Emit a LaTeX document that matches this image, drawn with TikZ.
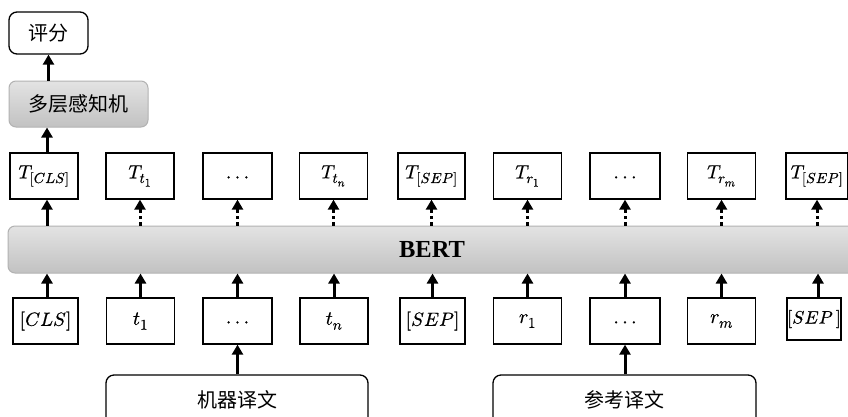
\documentclass[tikz,border=0pt]{standalone}
\usepackage{fontspec}
\usepackage{unicode-math}
\setmainfont{Liberation Serif}
\setmathfont{Latin Modern Math}[FakeBold=0.6]
\newfontfamily\cjk{Noto Sans CJK SC}
\DeclareMathSizes{20}{20}{15}{12}
\DeclareMathSizes{19}{19}{14.5}{11.5}
\DeclareMathSizes{18}{18}{14}{11}
\usetikzlibrary{arrows.meta}
\newcommand{\mydots}{$\vphantom{T_{t_1}}.\mkern3mu.\mkern3mu.$}
\tikzset{
  box/.style={draw=black, line width=1.3pt, fill=white, minimum width=68pt, minimum height=46pt, inner sep=0pt,
    font=\fontsize{20}{22}\selectfont},
  tbox/.style={box, font=\fontsize{19}{22}\selectfont},
  grey/.style={draw=gray!60, line width=1pt, top color=gray!22, bottom color=gray!48, rounded corners=7pt, inner sep=0pt},
  txtbox/.style={draw=black, line width=1.3pt, fill=white, rounded corners=8pt, inner sep=0pt,
    font=\cjk\fontsize{20}{24}\selectfont},
  arr/.style={line width=3pt, -{Triangle[length=10pt,width=11pt]}},
  darr/.style={arr, dash pattern=on 3.5pt off 3pt},
}
\begin{document}
\begin{tikzpicture}[x=1pt, y=-1pt]
\clip (0,0) rectangle (848,416);
\fill[white] (0,0) rectangle (848,416);
% top
\node[txtbox, minimum width=79pt, minimum height=42pt] (score) at (48.5,33) {评分};
\node[grey, minimum width=139pt, minimum height=46pt, font=\cjk\fontsize{20}{24}\selectfont] (mlp) at (78.5,104) {多层感知机};
% BERT bar
\node[grey, minimum width=848pt, minimum height=47pt, font=\fontsize{24.5}{28}\selectfont\bfseries] (bert) at (432,249.5) {BERT};
% T row
\node[tbox] (tcls) at (44,176) {$T_{[CLS]}$};
\node[tbox] (tt1) at (140,176) {$T_{t_1}$};
\node[box, minimum width=69pt] (tdots1) at (237.5,176) {\mydots};
\node[tbox] (ttn) at (333.5,176) {$T_{t_n}$};
\node[tbox, minimum width=67pt] (tsep1) at (431.5,176) {$T_{[SEP]}$};
\node[tbox] (tr1) at (527.5,176) {$T_{r_1}$};
\node[box, minimum width=70pt] (tdots2) at (625,176) {\mydots};
\node[tbox] (trm) at (721.5,176) {$T_{r_m}$};
\node[tbox, minimum width=62pt] (tsep2) at (817,176) {$T_{[SEP]}$};
% input row
\node[box, minimum width=65pt, font=\fontsize{19}{22}\selectfont] (cls) at (45.5,321) {$[CLS]$};
\node[box] (t1) at (140.5,321) {$t_1$};
\node[box, minimum width=69pt] (dots1) at (237.5,321) {\mydots};
\node[box] (tn) at (334,321) {$t_n$};
\node[box, minimum width=65pt, font=\fontsize{19}{22}\selectfont] (sep1) at (432.5,321) {$[SEP]$};
\node[box] (r1) at (527.5,321) {$r_1$};
\node[box, minimum width=70pt] (dots2) at (625,321) {\mydots};
\node[box] (rm) at (721.5,321) {$r_m$};
\node[box, minimum width=54pt, minimum height=42pt, font=\fontsize{18}{20}\selectfont] (sep2) at (814,319) {$[SEP\,]$};
% sources
\node[txtbox, minimum width=262pt, minimum height=50pt] (mt) at (237,400) {机器译文};
\node[txtbox, minimum width=263pt, minimum height=50pt] (ref) at (624.5,400) {参考译文};
% arrows top
\draw[arr] (score.south |- mlp.north) -- (score.south);
\draw[arr] ([xshift=3pt]tcls.north) -- ([xshift=3pt]tcls.north |- mlp.south);
\draw[arr] ([xshift=3pt]tcls.south |- bert.north) -- ([xshift=3pt]tcls.south);
\foreach \n in {tt1,tdots1,ttn,tsep1,tr1,tdots2,trm,tsep2}
  \draw[darr] (\n.south |- bert.north) -- (\n.south);
\draw[arr] ([xshift=1.5pt]cls.north) -- ([xshift=1.5pt]cls.north |- bert.south);
\foreach \n in {t1,dots1,tn,sep1,r1,dots2,rm}
  \draw[arr] (\n.north) -- (\n.north |- bert.south);
\draw[arr] ([xshift=4pt]sep2.north) -- ([xshift=4pt]sep2.north |- bert.south);
\draw[arr] (dots1.south |- mt.north) -- (dots1.south);
\draw[arr] (dots2.south |- ref.north) -- (dots2.south);
\end{tikzpicture}
\end{document}
